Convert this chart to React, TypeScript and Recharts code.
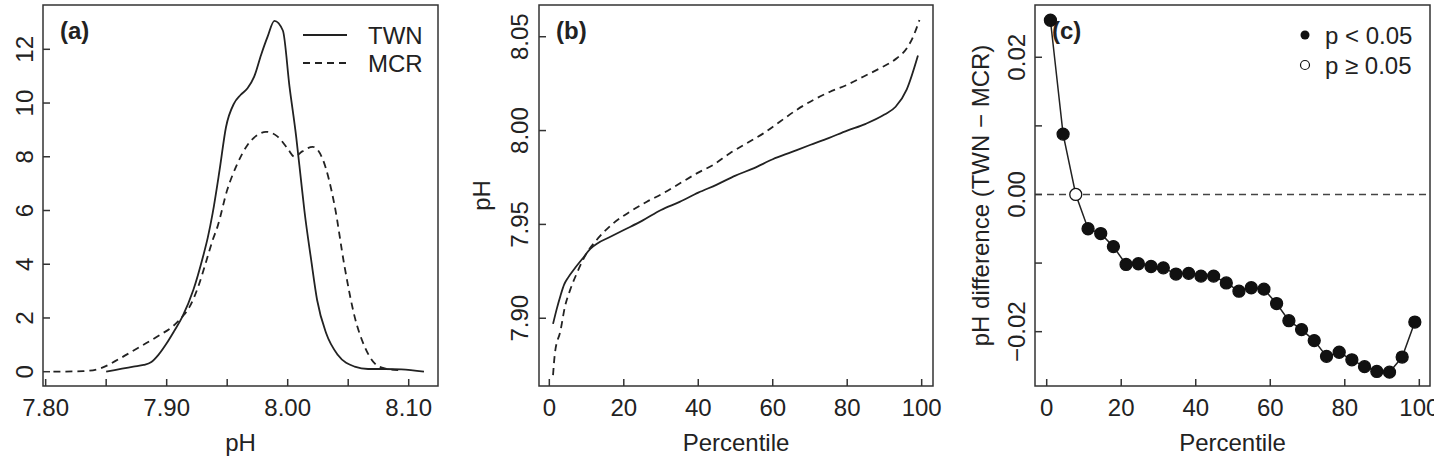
import React from 'react'
import {
  LineChart, ComposedChart, Line, XAxis, YAxis, ReferenceArea, ReferenceLine, Legend,
} from 'recharts'

const FONT = '"Liberation Sans", Arial, Helvetica, sans-serif'
const INK = '#222'
const FRAME = '#333'
const FS = 24

// --- (a) kernel density of pH ---
const twnPh = [7.850, 7.8725, 7.881, 7.887, 7.893, 7.900, 7.906, 7.913, 7.922, 7.930, 7.934, 7.938, 7.9437, 7.949, 7.9557, 7.961, 7.9668, 7.9723, 7.978, 7.9834, 7.989, 7.996, 8.0015, 8.007, 8.011, 8.0138, 8.0194, 8.0243, 8.0318, 8.0415, 8.0553, 8.0664, 8.0802, 8.094, 8.1126]
const twnDensity = [0, 0.19, 0.25, 0.35, 0.62, 1.06, 1.5, 2.05, 3.04, 4.28, 5.0, 5.9, 7.5, 9.1, 9.99, 10.3, 10.55, 10.98, 11.79, 12.47, 13.06, 12.7, 10.61, 8.75, 7.13, 6.0, 4.16, 2.67, 1.43, 0.62, 0.19, 0.1, 0.1, 0.09, 0]
const mcrPh = [7.8064, 7.831, 7.845, 7.8616, 7.878, 7.8945, 7.9054, 7.913, 7.919, 7.926, 7.933, 7.938, 7.942, 7.950, 7.9585, 7.9668, 7.975, 7.982, 7.9917, 8.000, 8.0056, 8.012, 8.0207, 8.029, 8.0387, 8.047, 8.0553, 8.0636, 8.0719, 8.0802, 8.0913]
const mcrDensity = [0, 0.02, 0.12, 0.5, 0.93, 1.37, 1.7, 2.05, 2.42, 3.16, 4.16, 4.9, 5.4, 6.76, 7.75, 8.44, 8.81, 8.93, 8.75, 8.3, 8.0, 8.2, 8.37, 7.9, 6.2, 3.91, 2.05, 0.93, 0.31, 0.12, 0.06]
const phTicks = [7.80, 7.85, 7.90, 7.95, 8.00, 8.05, 8.10]
const phLabelled = ['7.80', '7.90', '8.00', '8.10']
const densityTicks = [0, 2, 4, 6, 8, 10, 12]

// --- (b) pH by percentile ---
const twnPct = [1, 2, 3, 4, 5, 7, 9, 11, 13, 16, 20, 25, 30, 35, 40, 45, 50, 55, 60, 65, 70, 75, 80, 85, 90, 93, 96, 99]
const twnQ = [7.897, 7.905, 7.912, 7.918, 7.9215, 7.927, 7.932, 7.937, 7.94, 7.943, 7.947, 7.952, 7.9577, 7.962, 7.9669, 7.9712, 7.976, 7.98, 7.9847, 7.9885, 7.9923, 7.996, 8.0, 8.0036, 8.0085, 8.0127, 8.022, 8.04]
const mcrPct = [1, 1.5, 3, 4.2, 5.6, 7.4, 10, 12.7, 17.2, 21.7, 26.2, 30.6, 35.1, 39.6, 44, 48.5, 53, 57.5, 61.9, 66.4, 70.9, 75.4, 79.9, 84.3, 88.8, 93.3, 96, 97.7, 99.4]
const mcrQ = [7.8697, 7.8813, 7.8934, 7.9062, 7.9151, 7.924, 7.9346, 7.9417, 7.9506, 7.9568, 7.9621, 7.9666, 7.9719, 7.9772, 7.9817, 7.9879, 7.9932, 7.9985, 8.0047, 8.011, 8.0163, 8.0207, 8.0243, 8.0287, 8.0332, 8.0385, 8.0438, 8.05, 8.0589]
const pctTicks = [0, 20, 40, 60, 80, 100]
const quantileTicks = [7.90, 7.95, 8.00, 8.05]

// --- (c) difference TWN - MCR ---
const diffPct = [1, 4.4, 7.8, 11.1, 14.5, 17.9, 21.3, 24.6, 28, 31.3, 34.7, 38.1, 41.4, 44.8, 48.2, 51.6, 54.9, 58.3, 61.7, 65, 68.4, 71.8, 75.1, 78.5, 81.9, 85.3, 88.6, 92, 95.4, 98.8]
const diffPh = [0.0254, 0.0088, 0.0, -0.005, -0.0057, -0.0076, -0.0102, -0.0101, -0.0105, -0.0107, -0.0116, -0.0115, -0.0119, -0.0119, -0.0129, -0.0141, -0.0136, -0.0138, -0.0159, -0.0184, -0.0197, -0.0213, -0.0236, -0.023, -0.0241, -0.0251, -0.0258, -0.0259, -0.0237, -0.0186]
const diffSig = [true, true, false, true, true, true, true, true, true, true, true, true, true, true, true, true, true, true, true, true, true, true, true, true, true, true, true, true, true, true]
const diffTicks = [-0.02, -0.01, 0, 0.01, 0.02]
const diffLabels: Record<string, string> = { '-0.02': '\u22120.02', '0': '0.00', '0.02': '0.02' }

const twnDens = twnPh.map((x, i) => ({ x, y: twnDensity[i] }))
const mcrDens = mcrPh.map((x, i) => ({ x, y: mcrDensity[i] }))
const twnQuant = twnPct.map((x, i) => ({ x, y: twnQ[i] }))
const mcrQuant = mcrPct.map((x, i) => ({ x, y: mcrQ[i] }))
const diffData = diffPct.map((x, i) => ({ x, y: diffPh[i], sig: diffSig[i] }))

const textStyle = { fontFamily: FONT, fontSize: FS, fill: INK }
const TICK_BASE = 416
const TITLE_BASE = 451

const xTick = (fmt: (v: number) => string | null) => (props: any) => {
  const label = fmt(props.payload.value)
  if (!label) return <g />
  return (
    <text x={props.x} y={TICK_BASE} textAnchor="middle" {...textStyle}>{label}</text>
  )
}

const yTick = (bx: number, fmt: (v: number) => string | null) => (props: any) => {
  const label = fmt(props.payload.value)
  if (!label) return <g />
  return (
    <text transform={`translate(${bx},${props.y}) rotate(-90)`} textAnchor="middle" {...textStyle}>{label}</text>
  )
}

const xTitle = (text: string) => (props: any) => {
  const vb = props.viewBox
  return <text x={vb.x + vb.width / 2} y={TITLE_BASE} textAnchor="middle" {...textStyle}>{text}</text>
}

const yTitle = (text: string, bx: number) => (props: any) => {
  const vb = props.viewBox
  return (
    <text transform={`translate(${bx},${vb.y + vb.height / 2}) rotate(-90)`} textAnchor="middle" {...textStyle}>{text}</text>
  )
}

const tag = (text: string) => (props: any) => {
  const vb = props.viewBox
  return <text x={vb.x + 17} y={vb.y + 34} fontFamily={FONT} fontSize={FS} fontWeight="bold" fill={INK}>{text}</text>
}

const axisCommon = {
  type: 'number' as const,
  allowDataOverflow: true,
  axisLine: false,
  tickSize: -7,
  tickLine: { stroke: FRAME, strokeWidth: 1.5 },
  interval: 0 as const,
}

// legend floats over the plot: middle/center so it takes no room from the plot
const legendPlace = { layout: 'horizontal' as const, verticalAlign: 'middle' as const, align: 'center' as const }

function LineLegend() {
  return (
    <svg width={140} height={70} style={{ display: 'block' }}>
      <line x1={3} x2={47} y1={15} y2={15} stroke={INK} strokeWidth={1.8} />
      <line x1={3} x2={47} y1={43} y2={43} stroke={INK} strokeWidth={1.8} strokeDasharray="7 5" />
      <text x={68} y={24} {...textStyle}>TWN</text>
      <text x={68} y={52} {...textStyle}>MCR</text>
    </svg>
  )
}

function DotLegend() {
  return (
    <svg width={140} height={70} style={{ display: 'block' }}>
      <circle cx={15} cy={15} r={4.5} fill="#111" />
      <circle cx={15} cy={45} r={4.5} fill="#fff" stroke="#111" strokeWidth={1.2} />
      <text x={35} y={24} {...textStyle}>p &lt; 0.05</text>
      <text x={35} y={54} {...textStyle}>p ≥ 0.05</text>
    </svg>
  )
}

const DiffDot = (props: any) => {
  const { cx, cy, payload, index } = props
  return (
    <circle key={index} cx={cx} cy={cy} r={6}
      fill={payload.sig ? '#111' : '#fff'} stroke="#111" strokeWidth={1.3} />
  )
}

function DensityPanel() {
  const xd: [number, number] = [7.7978, 8.1242]
  const yd: [number, number] = [-0.532, 13.649]
  return (
    <LineChart width={480} height={462} margin={{ top: 5, right: 42, left: 0, bottom: 0 }}>
      <XAxis dataKey="x" {...axisCommon} domain={xd} ticks={phTicks} height={76}
        tick={xTick((v) => { const s = v.toFixed(2); return phLabelled.includes(s) ? s : null })}
        label={{ content: xTitle('pH') }} />
      <YAxis dataKey="y" {...axisCommon} domain={yd} ticks={densityTicks} width={43}
        tick={yTick(33, (v) => String(v))} />
      <ReferenceArea x1={xd[0]} x2={xd[1]} y1={yd[0]} y2={yd[1]} fill="none" stroke={FRAME} strokeWidth={1.5}
        fillOpacity={0} label={{ content: tag('(a)') }} />
      <Line data={twnDens} dataKey="y" type="monotone" stroke={INK} strokeWidth={1.8} dot={false} isAnimationActive={false} name="TWN" />
      <Line data={mcrDens} dataKey="y" type="monotone" stroke={INK} strokeWidth={1.8} strokeDasharray="7 5" dot={false} isAnimationActive={false} name="MCR" />
      <Legend {...legendPlace} content={() => <LineLegend />} wrapperStyle={{ position: 'absolute', left: 300, top: 20, width: 140 }} />
    </LineChart>
  )
}

function QuantilePanel() {
  const xd: [number, number] = [-2.77, 103.04]
  const yd: [number, number] = [7.8639, 8.0669]
  return (
    <LineChart width={500} height={462} margin={{ top: 5, right: 27, left: 0, bottom: 0 }}>
      <XAxis dataKey="x" {...axisCommon} domain={xd} ticks={pctTicks} height={76}
        tick={xTick((v) => String(v))} label={{ content: xTitle('Percentile') }} />
      <YAxis dataKey="y" {...axisCommon} domain={yd} ticks={quantileTicks} width={79}
        tick={yTick(68, (v) => v.toFixed(2))} label={{ content: yTitle('pH', 29.5) }} />
      <ReferenceArea x1={xd[0]} x2={xd[1]} y1={yd[0]} y2={yd[1]} fill="none" stroke={FRAME} strokeWidth={1.5}
        fillOpacity={0} label={{ content: tag('(b)') }} />
      <Line data={twnQuant} dataKey="y" type="monotone" stroke={INK} strokeWidth={1.8} dot={false} isAnimationActive={false} />
      <Line data={mcrQuant} dataKey="y" type="monotone" stroke={INK} strokeWidth={1.8} strokeDasharray="7 5" dot={false} isAnimationActive={false} />
    </LineChart>
  )
}

function DifferencePanel() {
  const xd: [number, number] = [-3.14, 102.87]
  const yd: [number, number] = [-0.02792, 0.02762]
  return (
    <ComposedChart width={474} height={462} margin={{ top: 5, right: 4, left: 0, bottom: 0 }}>
      <XAxis dataKey="x" {...axisCommon} domain={xd} ticks={pctTicks} height={76}
        tick={xTick((v) => String(v))} label={{ content: xTitle('Percentile') }} />
      <YAxis dataKey="y" {...axisCommon} domain={yd} ticks={diffTicks} width={75}
        tick={yTick(65, (v) => diffLabels[String(Math.round(v * 100) / 100)] ?? null)}
        label={{ content: yTitle('pH difference (TWN \u2212 MCR)', 28.5) }} />
      <ReferenceArea x1={xd[0]} x2={xd[1]} y1={yd[0]} y2={yd[1]} fill="none" stroke={FRAME} strokeWidth={1.5}
        fillOpacity={0} label={{ content: tag('(c)') }} />
      <ReferenceLine y={0} stroke="#444" strokeWidth={1.5} strokeDasharray="7 5" />
      <Line data={diffData} dataKey="y" type="linear" stroke={INK} strokeWidth={1.5} dot={DiffDot} isAnimationActive={false} />
      <Legend {...legendPlace} content={() => <DotLegend />} wrapperStyle={{ position: 'absolute', left: 330, top: 20, width: 140 }} />
    </ComposedChart>
  )
}

export default function App() {
  return (
    <div style={{ position: 'absolute', left: 0, top: 0, width: 1434, height: 462, overflow: 'hidden', background: '#fff' }}>
      <div style={{ position: 'absolute', left: 0, top: 0 }}><DensityPanel /></div>
      <div style={{ position: 'absolute', left: 460, top: 0 }}><QuantilePanel /></div>
      <div style={{ position: 'absolute', left: 960, top: 0 }}><DifferencePanel /></div>
    </div>
  )
}
